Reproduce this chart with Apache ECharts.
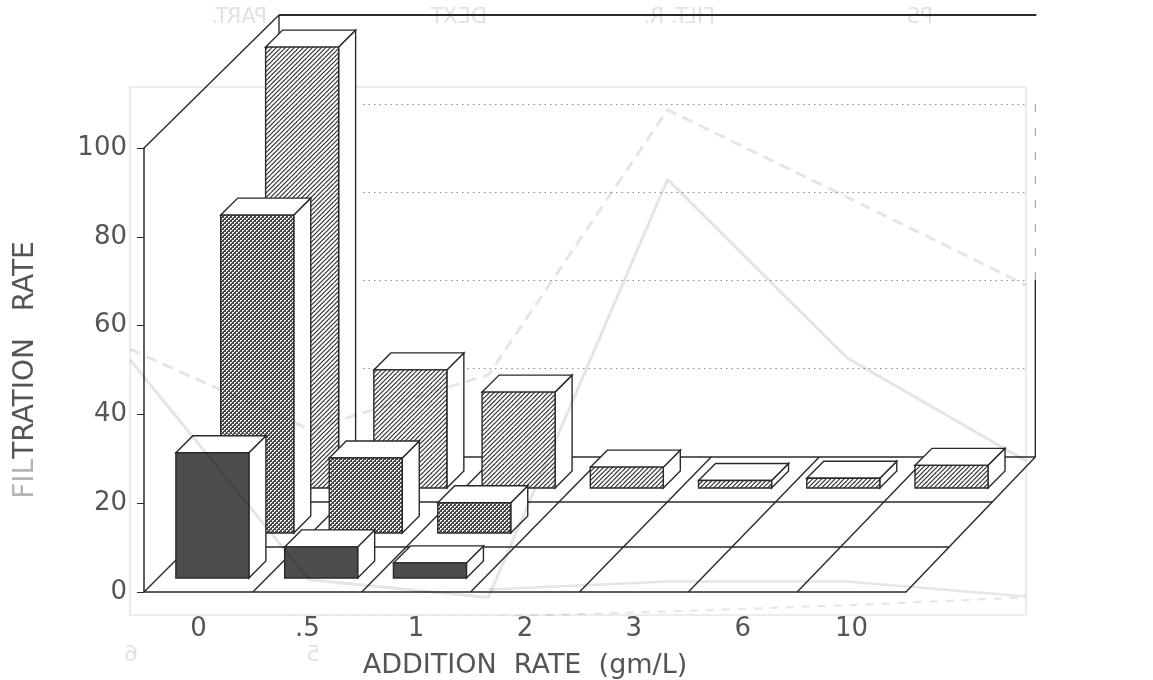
<!DOCTYPE html>
<html>
<head>
<meta charset="utf-8">
<script src="https://cdn.jsdelivr.net/npm/echarts@6/dist/echarts.min.js"></script>
<style>
  html, body { margin: 0; padding: 0; background: #fff; }
  #chart { width: 1153px; height: 680px; filter: blur(0.5px); }
</style>
</head>
<body>
<div id="chart"></div>
<script>
const additionRates = ['0', '.5', '1', '2', '3', '6', '10']
// filtration rate, one list per row of the 3d floor
const backRow = [99.3, 26.6, 21.6, 4.7, 1.7, 2.2, 5.1]
const middleRow = [71.6, 16.9, 6.8]
const frontRow = [28.2, 7, 3.4]

// the chart printed on the other side of the sheet, showing through the scan
const ghostX = [0, 1, 2, 3, 4, 5]
const ghostDashed = [1.22, 0.31, 0.93, 3.94, 2.95, 1.95]
const ghostSolid = [1.1, -1.4, -1.6, 3.15, 1.125, -0.05]
const ghostLowSolid = [null, null, -1.51, -1.42, -1.42, -1.59]
const ghostLowDashed = [-1.83, -1.82, -1.82, -1.76, -1.69, -1.6]
const ghostLevels = [1, 2, 3, 4]

const ink = '#2a2a2a'
const labelColor = '#555'
const labelFont = '"DejaVu Sans"'
const rowDepth = 45
const barInset = 14 // distance of a bar's face from the front of its row
const barDepth = 17
const barWidth = 73
const skew = 0.006 // back of the floor is a little narrower

function tile(size, draw) {
  const c = document.createElement('canvas')
  c.width = size
  c.height = size
  draw(c.getContext('2d'))
  return { image: c, repeat: 'repeat' }
}
const hatch = tile(9, (ctx) => {
  ctx.fillStyle = '#fff'
  ctx.fillRect(0, 0, 9, 9)
  ctx.strokeStyle = '#333'
  ctx.lineWidth = 1.2
  ;[0, 4.5, 9, 13.5, 18].forEach((c) => {
    ctx.beginPath()
    ctx.moveTo(c + 1, -1)
    ctx.lineTo(c - 10, 10)
    ctx.stroke()
  })
})
const dots = tile(4, (ctx) => {
  ctx.fillStyle = '#484848'
  ctx.fillRect(0, 0, 4, 4)
  ctx.fillStyle = '#f2f2f2'
  ctx.fillRect(0, 0, 2, 2)
  ctx.fillRect(2, 2, 2, 2)
  ctx.fillStyle = '#484848'
  ctx.fillRect(1, 1, 1, 1)
  ctx.fillRect(3, 3, 1, 1)
})

function shift(k, depth) {
  return depth * (1 - skew * k)
}

function line(x1, y1, x2, y2, style) {
  return {
    type: 'line',
    shape: { x1, y1, x2, y2 },
    style: Object.assign({ stroke: ink, lineWidth: 1.4 }, style),
  }
}

function renderFloor(params, api) {
  const origin = api.coord([0, 0])
  const band = api.size([1, 0])[0]
  const top = api.coord([0, 100])[1]
  const left = origin[0] - band / 2
  const y0 = origin[1]
  const depthAll = rowDepth * 3
  const children = []
  for (let r = 1; r <= 3; r++) {
    const d = r * rowDepth
    children.push(line(left + shift(0, d), y0 - d, left + 7 * band + shift(7, d), y0 - d))
  }
  for (let k = 0; k <= 7; k++) {
    const x = left + k * band
    children.push(line(x, y0, x + shift(k, depthAll), y0 - depthAll))
  }
  const wallX = left + depthAll
  const wallTop = top - 133
  const rightX = left + 7 * band + shift(7, depthAll)
  children.push(line(left, top, wallX, wallTop))
  children.push(line(wallX, wallTop, wallX, y0 - depthAll))
  children.push(line(wallX, wallTop, rightX + 1, wallTop, { lineWidth: 2 }))
  children.push(line(rightX, y0 - depthAll, rightX, 280))
  children.push(line(rightX, 280, rightX, 100, { stroke: '#999', lineWidth: 1, lineDash: [8, 16] }))
  return { type: 'group', children }
}

function barRenderer(row, fill) {
  return function (params, api) {
    const k = api.value(0)
    const d = row * rowDepth + barInset
    const base = api.coord([k, 0])
    const head = api.coord([k, api.value(1)])
    const cx = base[0] + shift(k + 0.5, d)
    const x0 = cx - barWidth / 2
    const x1 = cx + barWidth / 2
    const yb = base[1] - d
    const yt = head[1] - d
    const edge = { stroke: ink, lineWidth: 1.4 }
    return {
      type: 'group',
      children: [
        {
          type: 'polygon',
          shape: { points: [[x1, yt], [x1 + barDepth, yt - barDepth], [x1 + barDepth, yb - barDepth], [x1, yb]] },
          style: Object.assign({ fill: '#fff' }, edge),
        },
        {
          type: 'polygon',
          shape: { points: [[x0, yt], [x0 + barDepth, yt - barDepth], [x1 + barDepth, yt - barDepth], [x1, yt]] },
          style: Object.assign({ fill: '#fff' }, edge),
        },
        {
          type: 'rect',
          shape: { x: x0, y: yt, width: barWidth, height: yb - yt },
          style: Object.assign({ fill }, edge),
        },
      ],
    }
  }
}

function rowData(values) {
  return values.map((v, i) => [i, v])
}

function ghostData(values) {
  return ghostX.map((x, i) => [x, values[i]]).filter((p) => p[1] !== null)
}

function ghostLine(values, lineStyle, extra) {
  return Object.assign({
    type: 'line',
    xAxisIndex: 1,
    yAxisIndex: 1,
    symbol: 'none',
    silent: true,
    z: 10,
    lineStyle: Object.assign({ color: 'rgba(0,0,0,0.1)', width: 3 }, lineStyle),
    data: ghostData(values),
  }, extra)
}

function ghostText(text, x, y, size) {
  return {
    type: 'text',
    x,
    y,
    scaleX: -1,
    silent: true,
    style: { text, fill: '#e2e2e2', font: size + 'px "DejaVu Sans"' },
  }
}

const myChart = echarts.init(document.getElementById('chart'), null, { renderer: 'canvas' })
myChart.setOption({
  animation: false,
  backgroundColor: '#fff',
  grid: [
    { left: 144, top: 148, width: 762, height: 444, outerBoundsMode: 'none' },
    { left: 130, top: 87, width: 896, height: 528, outerBoundsMode: 'none', show: true, backgroundColor: 'transparent', borderColor: '#ececec', borderWidth: 2 },
  ],
  xAxis: [
    {
      type: 'category',
      data: additionRates,
      name: 'ADDITION  RATE  (gm/L)',
      nameLocation: 'middle',
      nameGap: 60,
      nameTextStyle: { color: labelColor, fontSize: 27, fontFamily: labelFont },
      axisLine: { lineStyle: { color: ink, width: 1.5 } },
      axisTick: { alignWithLabel: true, length: 7, lineStyle: { color: ink } },
      axisLabel: { color: labelColor, fontSize: 26, fontFamily: labelFont, margin: 24 },
      z: 3,
    },
    { type: 'value', gridIndex: 1, min: 0, max: 5, show: false },
  ],
  yAxis: [
    {
      type: 'value',
      min: 0,
      max: 100,
      interval: 20,
      name: '{faint|FIL}{ink|TRATION   RATE}',
      nameLocation: 'middle',
      nameGap: 104,
      nameTextStyle: {
        rich: {
          faint: { color: '#b5b5b5', fontSize: 28, fontFamily: labelFont },
          ink: { color: labelColor, fontSize: 28, fontFamily: labelFont },
        },
      },
      splitLine: { show: false },
      axisLine: { show: true, lineStyle: { color: ink, width: 1.5 } },
      axisTick: { show: true, length: 7, lineStyle: { color: ink } },
      axisLabel: { color: labelColor, fontSize: 26, fontFamily: labelFont, margin: 17 },
      z: 3,
    },
    { type: 'value', gridIndex: 1, min: -1.8, max: 4.2, show: false },
  ],
  series: [
    { type: 'custom', z: 2, silent: true, renderItem: renderFloor, data: [[0, 0]] },
    { type: 'custom', z: 3, silent: true, renderItem: barRenderer(2, hatch), encode: { x: 0, y: 1 }, data: rowData(backRow) },
    { type: 'custom', z: 4, silent: true, renderItem: barRenderer(1, dots), encode: { x: 0, y: 1 }, data: rowData(middleRow) },
    { type: 'custom', z: 5, silent: true, renderItem: barRenderer(0, '#4d4d4d'), encode: { x: 0, y: 1 }, data: rowData(frontRow) },
    ghostLine(ghostDashed, { type: [11, 7] }, {
      markLine: {
        silent: true,
        z: 1,
        symbol: 'none',
        label: { show: false },
        lineStyle: { color: '#8c8c8c', width: 1.2, type: [1.5, 4] },
        data: ghostLevels.map((v) => [{ coord: [1.3, v] }, { coord: [5, v] }]),
      },
    }),
    ghostLine(ghostSolid, {}),
    ghostLine(ghostLowSolid, { width: 2.5 }),
    ghostLine(ghostLowDashed, { width: 2, type: [8, 8] }),
  ],
  graphic: [
    ghostText('PART.', 267, 7, 21),
    ghostText('DEXT', 487, 7, 21),
    ghostText('FILT. R.', 715, 7, 21),
    ghostText('PS', 933, 7, 21),
    ghostText('6', 138, 644, 22),
    ghostText('5', 320, 644, 22),
  ],
})
</script>
</body>
</html>
